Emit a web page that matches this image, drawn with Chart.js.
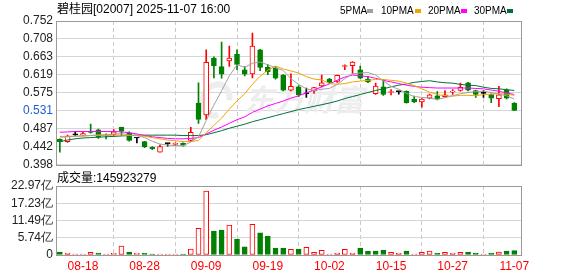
<!DOCTYPE html>
<html><head><meta charset="utf-8">
<script src="https://cdn.jsdelivr.net/npm/chart.js@4.4.1/dist/chart.umd.min.js"></script>
<style>
html,body{margin:0;padding:0;background:#fff;width:578px;height:276px;overflow:hidden;}
#wrap{position:relative;width:578px;height:276px;}
canvas{position:absolute;left:0;}
.t{position:absolute;font-family:'Liberation Sans','Noto Sans CJK SC',sans-serif;font-size:12px;color:#000;white-space:nowrap;line-height:14px;}
.lg{position:absolute;font-family:'Liberation Sans',sans-serif;font-size:10px;color:#000;white-space:nowrap;line-height:12px;}
.sq{position:absolute;width:6px;height:4px;top:9px;}
</style></head><body>
<div id="wrap">
<canvas id="pc" width="578" height="175" style="top:0"></canvas>
<canvas id="vc" width="578" height="106" style="top:170px"></canvas>
<div class="t" style="left:57px;top:2px">碧桂园[02007] 2025-11-07 16:00</div>
<div class="lg" style="left:340px;top:5px">5PMA</div><div class="sq" style="left:367px;background:#a0a0a0"></div>
<div class="lg" style="left:381px;top:5px">10PMA</div><div class="sq" style="left:415px;background:#f5a300"></div>
<div class="lg" style="left:428px;top:5px">20PMA</div><div class="sq" style="left:461px;background:#ff00ff"></div>
<div class="lg" style="left:474px;top:5px">30PMA</div><div class="sq" style="left:507px;background:#00703c"></div>
<div class="t" style="left:57px;top:171px">成交量:145923279</div>
</div>
<script>
const dates = ['08-13','08-14','08-15','08-18','08-19','08-20','08-21','08-22','08-25','08-26','08-27','08-28','08-29','09-01','09-02','09-03','09-04','09-05','09-08','09-09','09-10','09-11','09-12','09-15','09-16','09-17','09-18','09-19','09-22','09-23','09-24','09-25','09-26','09-29','09-30','10-02','10-03','10-06','10-08','10-09','10-10','10-13','10-14','10-15','10-16','10-17','10-20','10-21','10-22','10-23','10-24','10-27','10-28','10-30','10-31','11-03','11-04','11-05','11-06','11-07'];
const openP  = [0.461,0.455,0.472,0.471,0.481,0.484,0.470,0.473,0.490,0.477,0.464,0.455,0.441,0.429,0.450,0.448,0.451,0.458,0.550,0.521,0.661,0.640,0.654,0.670,0.632,0.622,0.681,0.638,0.637,0.618,0.582,0.590,0.573,0.580,0.592,0.609,0.603,0.640,0.642,0.632,0.609,0.573,0.590,0.576,0.578,0.579,0.559,0.553,0.562,0.568,0.566,0.577,0.581,0.600,0.581,0.574,0.571,0.561,0.582,0.550];
const highP  = [0.462,0.471,0.480,0.478,0.498,0.486,0.474,0.485,0.491,0.479,0.465,0.456,0.443,0.447,0.451,0.452,0.452,0.490,0.600,0.681,0.664,0.700,0.690,0.681,0.640,0.722,0.682,0.645,0.640,0.620,0.622,0.593,0.587,0.589,0.619,0.611,0.619,0.644,0.652,0.641,0.616,0.599,0.608,0.583,0.578,0.580,0.567,0.561,0.572,0.578,0.581,0.583,0.599,0.601,0.582,0.581,0.573,0.591,0.585,0.551];
const lowP   = [0.429,0.453,0.470,0.470,0.476,0.463,0.462,0.468,0.470,0.456,0.452,0.440,0.435,0.429,0.444,0.445,0.444,0.455,0.500,0.509,0.612,0.611,0.640,0.632,0.617,0.612,0.630,0.620,0.609,0.580,0.580,0.566,0.564,0.574,0.590,0.598,0.601,0.632,0.623,0.610,0.600,0.571,0.569,0.570,0.572,0.550,0.551,0.540,0.560,0.558,0.564,0.571,0.579,0.580,0.564,0.564,0.551,0.541,0.560,0.531];
const closeP = [0.455,0.469,0.472,0.475,0.478,0.466,0.469,0.479,0.481,0.458,0.464,0.442,0.437,0.443,0.450,0.451,0.446,0.478,0.510,0.650,0.642,0.621,0.661,0.645,0.621,0.690,0.638,0.627,0.611,0.582,0.591,0.570,0.573,0.588,0.600,0.601,0.618,0.641,0.651,0.611,0.602,0.592,0.571,0.577,0.578,0.551,0.553,0.560,0.570,0.560,0.570,0.578,0.589,0.582,0.571,0.574,0.562,0.570,0.562,0.532];
// volume in 亿 shares
const volume = [1.0,0.67,0.33,0.33,0.89,0.67,0.33,0.55,3.0,1.0,0.55,0.55,0.33,0.33,0.22,0.22,0.22,2.0,8.9,21.3,8.0,8.3,10.0,5.3,2.7,10.2,7.4,6.3,2.3,2.3,1.89,2.0,2.55,0.89,1.55,0.33,0.67,1.89,0.67,2.33,1.33,1.33,1.67,0.89,0.67,1.33,0.33,0.89,1.33,0.67,0.89,0.67,0.89,1.0,0.67,0.33,0.67,1.0,1.33,1.46];
const ma5  = [0.466,0.467,0.468,0.469,0.470,0.472,0.472,0.473,0.475,0.471,0.470,0.465,0.456,0.449,0.447,0.445,0.445,0.454,0.467,0.507,0.545,0.580,0.617,0.644,0.638,0.648,0.651,0.644,0.637,0.630,0.610,0.596,0.585,0.581,0.584,0.586,0.596,0.610,0.622,0.624,0.625,0.619,0.605,0.591,0.584,0.574,0.566,0.564,0.562,0.559,0.563,0.568,0.573,0.576,0.578,0.579,0.576,0.572,0.568,0.560];
const ma10 = [0.468,0.468,0.469,0.469,0.470,0.470,0.470,0.471,0.471,0.470,0.471,0.468,0.465,0.462,0.459,0.457,0.455,0.455,0.458,0.477,0.495,0.513,0.535,0.555,0.573,0.596,0.616,0.631,0.641,0.634,0.629,0.624,0.615,0.609,0.607,0.598,0.596,0.598,0.602,0.604,0.606,0.608,0.608,0.606,0.604,0.599,0.593,0.585,0.577,0.571,0.568,0.567,0.569,0.569,0.568,0.571,0.572,0.573,0.572,0.569];
const ma20 = [0.478,0.479,0.480,0.480,0.480,0.480,0.480,0.480,0.479,0.477,0.474,0.470,0.467,0.465,0.463,0.462,0.462,0.463,0.465,0.474,0.483,0.491,0.500,0.509,0.516,0.527,0.535,0.543,0.549,0.555,0.562,0.568,0.575,0.582,0.590,0.597,0.606,0.614,0.619,0.617,0.615,0.611,0.606,0.602,0.598,0.594,0.591,0.589,0.588,0.587,0.587,0.587,0.587,0.587,0.586,0.585,0.582,0.579,0.575,0.571];
const ma30 = [0.455,0.459,0.462,0.464,0.465,0.466,0.467,0.468,0.469,0.470,0.471,0.471,0.471,0.471,0.471,0.471,0.470,0.470,0.470,0.472,0.477,0.482,0.488,0.493,0.498,0.504,0.509,0.514,0.519,0.524,0.529,0.534,0.538,0.542,0.546,0.550,0.555,0.561,0.566,0.571,0.576,0.581,0.585,0.590,0.594,0.597,0.601,0.603,0.605,0.602,0.600,0.599,0.596,0.594,0.593,0.589,0.586,0.585,0.583,0.581];
const priceTicks = [0.398,0.44225,0.4865,0.53075,0.575,0.61925,0.6635,0.70775,0.752];
const priceTickLabels = ['0.398','0.442','0.487','0.531','0.575','0.619','0.663','0.708','0.752'];
const volTicks = [0,5.7425,11.485,17.2275,22.97];
const volTickLabels = ['0','5.74亿','11.49亿','17.23亿','22.97亿'];
const dateTickIdx = [3,11,19,27,35,43,51,59];

const RED='#ff0000', GREEN='#008000', BLACK='#000000';
const idx = closeP.map((_,i)=>i);
const candleCol = idx.map(i => closeP[i]>openP[i]?RED:(closeP[i]<openP[i]?GREEN:BLACK));
const candleFill = idx.map(i => closeP[i]>openP[i]?'#ffffff':candleCol[i]);
const volUp = idx.map(i => closeP[i] >= (i>0?closeP[i-1]:openP[0]));
const volCol = volUp.map(u=>u?RED:GREEN);
const volFill = volUp.map(u=>u?'#ffffff':GREEN);

const borderPlugin = {id:'frame', afterDatasetsDraw(chart){
  const a=chart.chartArea, c=chart.ctx; c.save(); c.strokeStyle='#9a9a9a'; c.lineWidth=1;
  c.strokeRect(Math.round(a.left)+0.5, Math.round(a.top)+0.5, Math.round(a.right-a.left)-1, Math.round(a.bottom-a.top)); c.restore();}};
const watermark = {id:'wm', beforeDatasetsDraw(chart){
  const c=chart.ctx; c.save(); c.fillStyle='#ededed'; c.font='italic bold 30px "Noto Sans CJK SC"';
  c.textAlign='center'; c.textBaseline='middle'; c.fillText('东方财富', 304, 100);
  c.strokeStyle='#ededed'; c.lineWidth=6; c.beginPath(); c.ellipse(216,100,13,16,0.4,Math.PI*0.3,Math.PI*1.9); c.stroke();
  c.restore();}};

const xCommon = (showLabels) => ({
  type:'linear', min:-0.5, max:60, offset:false,
  afterBuildTicks(s){ s.ticks = dateTickIdx.map(v=>({value:v})); },
  grid:{color:'#c8c8c8', drawTicks:false, lineWidth:1},
  border:{display:false, dash:[4,3]},
  ticks:{display:showLabels, autoSkip:false, maxRotation:0, padding:4, color:RED,
    font:{family:'Liberation Sans', size:12}, callback:(v)=>dates[v]},
});

const lineDs = (arr,color)=>({type:'line', data:arr.map((v,i)=>({x:i,y:v})), borderColor:color, borderWidth:1, pointRadius:0, tension:0, fill:false, order:0});

new Chart(document.getElementById('pc'), {
  type:'bar',
  data:{datasets:[
    lineDs(ma5,'#a0a0a0'), lineDs(ma10,'#f5a300'), lineDs(ma20,'#ff00ff'), lineDs(ma30,'#00703c'),
    {type:'bar', data:idx.map(i=>({x:i,y:[openP[i],closeP[i]]})), backgroundColor:candleFill, borderColor:candleCol,
     borderWidth:1, borderSkipped:false, barThickness:5, minBarLength:1, grouped:false, order:1},
    {type:'bar', data:idx.map(i=>({x:i,y:[lowP[i],highP[i]]})), backgroundColor:candleCol, borderWidth:0,
     barThickness:1, grouped:false, order:2}
  ]},
  options:{responsive:false, animation:false, devicePixelRatio:1, events:[],
    layout:{padding:{top:21,right:56,bottom:10,left:0}},
    plugins:{legend:{display:false}, tooltip:{enabled:false}},
    scales:{
      x:Object.assign(xCommon(false), {afterFit(s){s.height=0;}}),
      y:{type:'linear', min:0.398, max:0.752,
        afterBuildTicks(s){ s.ticks = priceTicks.map(v=>({value:v})); },
        afterFit(s){ s.width=56; },
        grid:{color:'#d6d6d6', drawTicks:false}, border:{display:false},
        ticks:{padding:3, autoSkip:false, font:{family:'Liberation Sans', size:12},
          color:(ctx)=> ctx.index===3 ? '#1f5fd6' : '#222',
          callback:(v,i)=>priceTickLabels[i]}}
    }},
  plugins:[watermark, borderPlugin]
});

new Chart(document.getElementById('vc'), {
  type:'bar',
  data:{datasets:[
    {data:idx.map(i=>({x:i,y:volume[i]})), backgroundColor:volFill, borderColor:volCol, borderWidth:1,
     borderSkipped:false, barThickness:5, minBarLength:1, grouped:false}
  ]},
  options:{responsive:false, animation:false, devicePixelRatio:1, events:[],
    layout:{padding:{top:16,right:56,bottom:0,left:0}},
    plugins:{legend:{display:false}, tooltip:{enabled:false}},
    scales:{
      x:Object.assign(xCommon(true), {afterFit(s){s.height=21;}}),
      y:{type:'linear', min:0, max:22.97,
        afterBuildTicks(s){ s.ticks = volTicks.map(v=>({value:v})); },
        afterFit(s){ s.width=56; },
        grid:{color:'#d6d6d6', drawTicks:false}, border:{display:false},
        ticks:{padding:3, autoSkip:false, color:'#222', font:{family:'Liberation Sans', size:12},
          callback:(v,i)=>volTickLabels[i]}}
    }},
  plugins:[borderPlugin]
});
</script>
</body></html>
